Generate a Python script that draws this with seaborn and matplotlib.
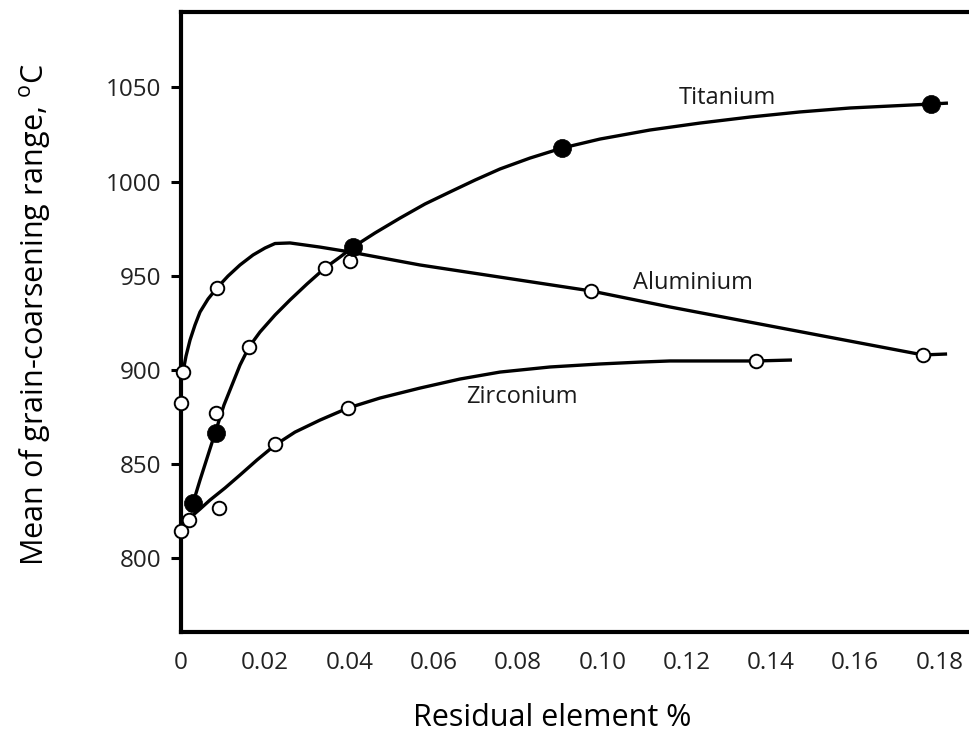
import matplotlib
matplotlib.use("Agg")
import matplotlib.pyplot as plt
import seaborn as sns
import pandas as pd

# ---- data ----
ti_curve_x = [0.00214, 0.00285, 0.00451, 0.00641, 0.00831, 0.01020, 0.01210, 0.01400, 0.01614, 0.01875,
              0.02231, 0.02587, 0.02990, 0.03417, 0.03773, 0.04082, 0.04604, 0.05197, 0.05790, 0.06384,
              0.06977, 0.07570, 0.08282, 0.09041, 0.09943, 0.11130, 0.12316, 0.13503, 0.14689, 0.15876,
              0.17062, 0.17798, 0.18201]
ti_curve_y = [824.4, 829.2, 841.4, 854.7, 868.0, 881.3, 891.9, 902.5, 912.1, 920.1,
              929.1, 937.1, 945.6, 954.1, 959.9, 965.2, 972.7, 980.6, 988.1, 994.5,
              1000.8, 1006.7, 1012.5, 1017.8, 1022.6, 1027.4, 1031.1, 1034.3, 1037.0, 1039.1,
              1040.4, 1041.2, 1041.7]

al_curve_x = [0.00047, 0.00119, 0.00214, 0.00332, 0.00451, 0.00641, 0.00854, 0.01115, 0.01400, 0.01709,
              0.01993, 0.02231, 0.02587, 0.03299, 0.04010, 0.0567, 0.0973, 0.1160, 0.1761, 0.1818]
al_curve_y = [898.8, 907.3, 915.8, 923.8, 930.7, 937.6, 943.5, 949.8, 955.7, 961.0,
              964.7, 967.1, 967.4, 965.2, 962.6, 955.7, 941.9, 933.4, 907.9, 908.4]

zr_curve_x = [0.00047, 0.00142, 0.00285, 0.00451, 0.00688, 0.01044, 0.01400, 0.01804, 0.02231, 0.02705,
              0.03299, 0.03963, 0.04722, 0.05672, 0.06621, 0.07570, 0.08757, 0.09943, 0.10892, 0.11604,
              0.12791, 0.13645, 0.14499]
zr_curve_y = [816.5, 819.1, 822.8, 826.0, 830.8, 837.2, 844.1, 852.1, 860.0, 866.9,
              873.3, 879.7, 885.0, 890.3, 895.1, 898.8, 901.5, 903.1, 904.1, 904.7,
              904.7, 904.7, 905.2]

ti_pts_x = [0.00292, 0.00831, 0.04075, 0.09034, 0.178]
ti_pts_y = [829.4, 866.6, 965.1, 1017.7, 1041.2]

al_pts_x = [0.00055, 0.0, 0.00847, 0.01614, 0.00831, 0.03417, 0.0401, 0.0972, 0.1762]
al_pts_y = [899.0, 882.5, 943.3, 912.3, 876.9, 954.0, 958.0, 941.9, 907.9]

zr_pts_x = [0.0, 0.00197, 0.00909, 0.0223, 0.0397, 0.1365]
zr_pts_y = [814.5, 820.2, 826.4, 860.6, 879.5, 904.7]

y_ticks = [800, 850, 900, 950, 1000, 1050]
x_ticks = [0, 0.02, 0.04, 0.06, 0.08, 0.10, 0.12, 0.14, 0.16, 0.18]
x_tick_labels = ["0", "0.02", "0.04", "0.06", "0.08", "0.10", "0.12", "0.14", "0.16", "0.18"]

labels = ["Titanium", "Aluminium", "Zirconium"]
label_x = [0.1296, 0.1215, 0.0810]
label_y = [1044.4, 946.1, 885.7]

# ---- styling ----
sns.set_theme(style="white")
plt.rcParams["font.family"] = ["Open Sans", "DejaVu Sans"]

fig = plt.figure(figsize=(9.69, 7.42), dpi=100)
ax = fig.add_axes([181 / 969, 110 / 742, 788 / 969, 620 / 742])

curves = pd.concat([
    pd.DataFrame({"x": ti_curve_x, "y": ti_curve_y, "el": "Titanium"}),
    pd.DataFrame({"x": al_curve_x, "y": al_curve_y, "el": "Aluminium"}),
    pd.DataFrame({"x": zr_curve_x, "y": zr_curve_y, "el": "Zirconium"}),
])
for el, d in curves.groupby("el", sort=False):
    ln = sns.lineplot(data=d, x="x", y="y", sort=False, estimator=None, color="black",
                      linewidth=2.4, ax=ax, zorder=2)
for line in ax.get_lines():
    line.set_solid_joinstyle("round")
    line.set_solid_capstyle("butt")

open_df = pd.DataFrame({"x": al_pts_x + zr_pts_x, "y": al_pts_y + zr_pts_y})
sns.scatterplot(data=open_df, x="x", y="y", s=95, facecolor="white", edgecolor="black",
                linewidth=1.4, ax=ax, zorder=3, clip_on=False)
filled_df = pd.DataFrame({"x": ti_pts_x, "y": ti_pts_y})
sns.scatterplot(data=filled_df, x="x", y="y", s=170, color="black", edgecolor="black",
                linewidth=0.5, ax=ax, zorder=4, clip_on=False)

for t, lx, ly in zip(labels, label_x, label_y):
    ax.text(lx, ly, t, ha="center", va="center", fontsize=17, color="#1a1a1a")

ax.set_xlim(0, 0.187)
ax.set_ylim(760.7, 1090.1)
ax.set_xticks(x_ticks)
ax.set_xticklabels(x_tick_labels)
ax.set_yticks(y_ticks)

for side in ["left", "top", "bottom"]:
    ax.spines[side].set_visible(True)
    ax.spines[side].set_linewidth(3)
    ax.spines[side].set_color("black")
ax.spines["right"].set_visible(False)

ax.tick_params(axis="y", direction="out", length=7, width=2.2, pad=7,
               labelsize=17.5, colors="black", left=True)
ax.tick_params(axis="x", length=0, pad=14, labelsize=17.5, colors="black")
for lab in ax.get_xticklabels() + ax.get_yticklabels():
    lab.set_color("#222222")

ax.set_xlabel("Residual element %", fontsize=22, color="black")
ax.set_ylabel("Mean of grain-coarsening range, $\\mathregular{^o}$C", fontsize=22, color="black")
ax.xaxis.set_label_coords((552 - 181) / 788, (632 - 703) / 620)
ax.yaxis.set_label_coords((52 - 181) / 788, (632 - 315) / 620)

fig.savefig("out.png", dpi=100)
